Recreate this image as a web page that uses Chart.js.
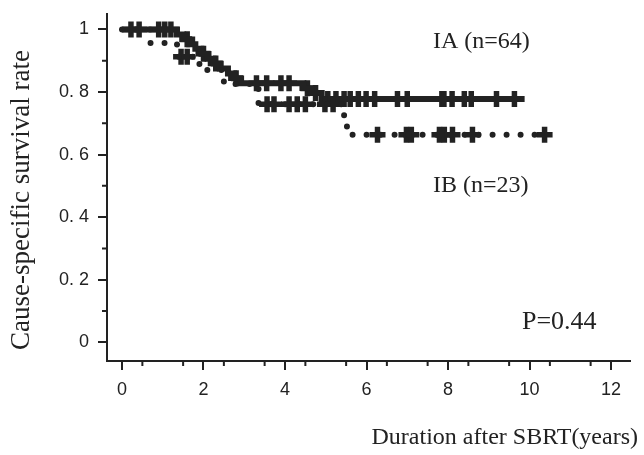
<!DOCTYPE html>
<html>
<head>
<meta charset="utf-8">
<title>Cause-specific survival by stage</title>
<script src="https://cdn.jsdelivr.net/npm/chart.js@4.4.1/dist/chart.umd.min.js"></script>
<style>
  body { margin: 0; background: #fff; }
  canvas { display: block; }
</style>
</head>
<body>
<canvas id="kmChart" width="644" height="455"></canvas>
<script>
// Kaplan-Meier steps (time in years, survival)
const iaTimes = [0, 1.35, 1.5, 1.65, 1.8, 1.95, 2.1, 2.25, 2.4, 2.6, 2.75, 2.9, 4.45, 4.65, 4.9, 9.88];
const iaSurv = [1, 0.984, 0.969, 0.953, 0.938, 0.922, 0.906, 0.891, 0.875, 0.859, 0.844, 0.828, 0.812, 0.797, 0.778, 0.778];
const iaCensor = [0.22, 0.42, 0.9, 1.05, 1.2, 1.6, 2.0, 2.3, 2.8, 3.3, 3.55, 3.9, 4.1, 4.55, 4.75, 5.05, 5.25, 5.45, 5.6, 5.8, 5.99, 6.2, 6.76, 7.0, 7.85, 7.9, 8.1, 8.4, 8.57, 9.19, 9.63];

const ibTimes = [0, 0.7, 1.35, 1.9, 2.5, 3.35, 5.45, 5.52, 10.44];
const ibSurv = [1, 0.957, 0.913, 0.870, 0.826, 0.761, 0.705, 0.663, 0.663];
const ibCensor = [1.45, 1.6, 3.56, 3.73, 4.1, 4.3, 4.5, 4.98, 5.18, 6.27, 6.98, 7.1, 7.79, 7.91, 8.11, 8.6, 10.37];

const xTicks = [0, 2, 4, 6, 8, 10, 12];
const yTicks = [0, 0.2, 0.4, 0.6, 0.8, 1];
const yTickLabels = ['0', '0. 2', '0. 4', '0. 6', '0. 8', '1'];

const ink = '#222222';

// survival value at time t (last step at or before t)
function survAt(times, surv, t) {
    let v = surv[0];
    for (let i = 0; i < times.length; i++) {
        if (times[i] <= t) v = surv[i];
    }
    return v;
}

function steps(times, surv) {
    return times.map((t, i) => ({ x: t, y: surv[i] }));
}

function marks(times, surv, censor) {
    return censor.map(t => ({ x: t, y: survAt(times, surv, t) }));
}

// minor ticks on both axes, shorter than the major ones
const minorTicks = {
    id: 'minorTicks',
    afterDraw(chart) {
        const ctx = chart.ctx;
        const xs = chart.scales.x;
        const ys = chart.scales.y;
        ctx.save();
        ctx.strokeStyle = ink;
        ctx.lineWidth = 2;
        ctx.beginPath();
        for (let v = 0.5; v < 12; v += 1) {
            const px = xs.getPixelForValue(v);
            ctx.moveTo(px, xs.top);
            ctx.lineTo(px, xs.top + 5);
        }
        for (let v = 0.1; v < 1; v += 0.2) {
            const py = ys.getPixelForValue(v);
            ctx.moveTo(ys.right, py);
            ctx.lineTo(ys.right - 5, py);
        }
        ctx.stroke();
        ctx.restore();
    }
};

// labels sitting in the plot and the axis titles
const labels = {
    id: 'labels',
    afterDraw(chart) {
        const ctx = chart.ctx;
        ctx.save();
        ctx.fillStyle = ink;
        ctx.textBaseline = 'middle';
        ctx.font = '24px "Liberation Serif", "Times New Roman", serif';
        ctx.fillText('IA (n=64)', 433, 42);
        ctx.fillText('IB (n=23)', 433, 186);
        ctx.font = '26px "Liberation Serif", "Times New Roman", serif';
        ctx.fillText('P=0.44', 522, 322);

        ctx.textAlign = 'right';
        ctx.font = '24px "Liberation Serif", "Times New Roman", serif';
        ctx.fillText('Duration after SBRT(years)', 638, 438);

        ctx.translate(22, 200);
        ctx.rotate(-Math.PI / 2);
        ctx.textAlign = 'center';
        ctx.font = '27px "Liberation Serif", "Times New Roman", serif';
        ctx.fillText('Cause-specific survival rate', 0, 0);
        ctx.restore();
    }
};

function noPad(s) {
    s.paddingTop = 0;
    s.paddingBottom = 0;
    s.paddingLeft = 0;
    s.paddingRight = 0;
}

new Chart(document.getElementById('kmChart'), {
    type: 'scatter',
    data: {
        datasets: [
            {
                label: 'IB',
                data: steps(ibTimes, ibSurv),
                showLine: true,
                stepped: true,
                borderColor: ink,
                borderWidth: 6,
                borderDash: [0, 14],
                borderCapStyle: 'round',
                pointRadius: 0
            },
            {
                label: 'IB censored',
                data: marks(ibTimes, ibSurv, ibCensor),
                showLine: false,
                pointStyle: 'cross',
                pointRadius: 8,
                pointBorderWidth: 5.5,
                pointBorderColor: ink
            },
            {
                label: 'IA',
                data: steps(iaTimes, iaSurv),
                showLine: true,
                stepped: true,
                borderColor: ink,
                borderWidth: 6,
                pointRadius: 0
            },
            {
                label: 'IA censored',
                data: marks(iaTimes, iaSurv, iaCensor),
                showLine: false,
                pointStyle: 'cross',
                pointRadius: 8,
                pointBorderWidth: 5.5,
                pointBorderColor: ink
            }
        ]
    },
    options: {
        responsive: false,
        animation: false,
        layout: { padding: { top: 11, right: 14, left: 0, bottom: 0 } },
        plugins: {
            legend: { display: false },
            tooltip: { enabled: false }
        },
        scales: {
            x: {
                type: 'linear',
                min: -0.368,
                max: 12.466,
                afterBuildTicks: s => { s.ticks = xTicks.map(v => ({ value: v })); },
                afterFit: s => { s.height = 94; noPad(s); },
                ticks: {
                    color: ink,
                    padding: 9,
                    maxRotation: 0,
                    autoSkip: false,
                    font: { family: '"Liberation Sans", Arial, sans-serif', size: 18 }
                },
                grid: { drawOnChartArea: false, tickLength: 9, color: ink, lineWidth: 2 },
                border: { display: true, color: ink, width: 2 }
            },
            y: {
                type: 'linear',
                min: -0.06,
                max: 1.051,
                afterBuildTicks: s => { s.ticks = yTicks.map(v => ({ value: v })); },
                afterFit: s => { s.width = 107; noPad(s); },
                ticks: {
                    color: ink,
                    padding: 9,
                    autoSkip: false,
                    callback: (v) => yTickLabels[yTicks.indexOf(v)] ?? '',
                    font: { family: '"Liberation Sans", Arial, sans-serif', size: 18 }
                },
                grid: { drawOnChartArea: false, tickLength: 9, color: ink, lineWidth: 2 },
                border: { display: true, color: ink, width: 2 }
            }
        }
    },
    plugins: [minorTicks, labels]
});
</script>
</body>
</html>
